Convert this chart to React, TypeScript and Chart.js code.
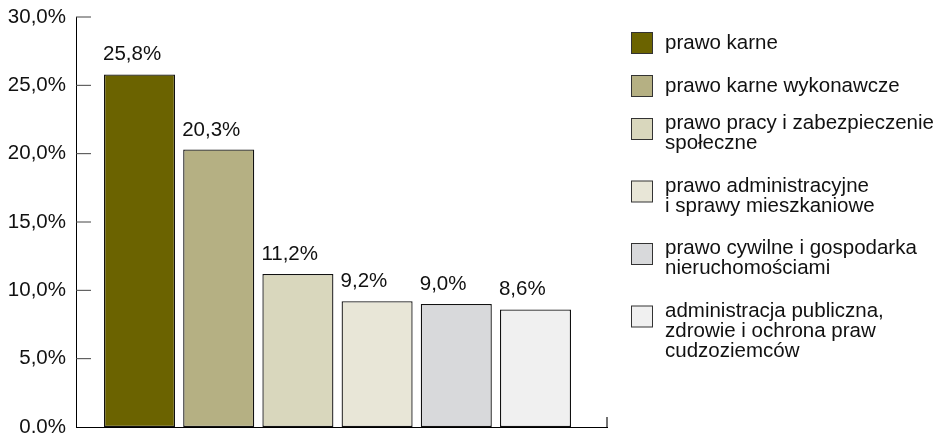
import React, { useEffect, useRef } from 'react';
import { Chart, registerables } from 'chart.js';

Chart.register(...registerables);

// ---- data ----
const categories: string[][] = [
  ['prawo karne'],
  ['prawo karne wykonawcze'],
  ['prawo pracy i zabezpieczenie', 'społeczne'],
  ['prawo administracyjne', 'i sprawy mieszkaniowe'],
  ['prawo cywilne i gospodarka', 'nieruchomościami'],
  ['administracja publiczna,', 'zdrowie i ochrona praw', 'cudzoziemców'],
];
const values: number[] = [25.8, 20.3, 11.2, 9.2, 9.0, 8.6];
const barColors: string[] = ['#6b6300', '#b5b083', '#d9d7bd', '#e8e6d7', '#d8d9db', '#f0f0f0'];
const yTicks: number[] = [0, 5, 10, 15, 20, 25, 30];
const yTickLabels: string[] = ['0,0%', '5,0%', '10,0%', '15,0%', '20,0%', '25,0%', '30,0%'];

const FONT = '"Liberation Sans", Arial, sans-serif';
const FS = 20.5;

const fmt = (v: number) => v.toFixed(1).replace('.', ',') + '%';

const decorPlugin = {
  id: 'decor',
  afterDraw(chart: any) {
    const { ctx, chartArea } = chart;
    const yScale = chart.scales.y;
    ctx.save();
    // inside y ticks
    ctx.strokeStyle = '#444';
    ctx.lineWidth = 1;
    yTicks.forEach((v) => {
      if (v === 0) return;
      const y = yScale.getPixelForValue(v);
      ctx.beginPath();
      ctx.moveTo(chartArea.left, y);
      ctx.lineTo(chartArea.left + 15, y);
      ctx.stroke();
    });
    // right end tick of x axis
    ctx.lineWidth = 1.5;
    ctx.beginPath();
    ctx.moveTo(chartArea.right, chartArea.bottom - 10);
    ctx.lineTo(chartArea.right, chartArea.bottom);
    ctx.stroke();

    // value labels
    const meta = chart.getDatasetMeta(0);
    ctx.fillStyle = '#111';
    ctx.font = `${FS}px ${FONT}`;
    ctx.textAlign = 'left';
    ctx.textBaseline = 'alphabetic';
    meta.data.forEach((bar: any, i: number) => {
      ctx.fillText(fmt(values[i]), bar.x - bar.width / 2 - 1, bar.y - 14);
    });

    // legend
    const boxX = chartArea.right + 24;
    const textX = chartArea.right + 58;
    let top = 32;
    categories.forEach((lines, i) => {
      ctx.fillStyle = barColors[i];
      ctx.fillRect(boxX + 0.5, top + 0.5, 21, 21);
      ctx.strokeStyle = '#333';
      ctx.lineWidth = 1;
      ctx.strokeRect(boxX + 0.5, top + 0.5, 21, 21);
      ctx.fillStyle = '#111';
      const first = lines.length === 1 ? top + 17 : top + 11;
      lines.forEach((line, j) => {
        ctx.fillText(line, textX, first + j * 20);
      });
      top += 43 + 19.5 * (lines.length - 1);
    });
    ctx.restore();
  },
};

export default function App() {
  const ref = useRef<HTMLCanvasElement | null>(null);

  useEffect(() => {
    if (!ref.current) return;
    const chart = new Chart(ref.current, {
      type: 'bar',
      data: {
        labels: categories.map((l) => l.join(' ')),
        datasets: [
          {
            data: values.map((v, i) => ({ x: i, y: v })) as any,
            backgroundColor: barColors,
            borderColor: '#111',
            borderWidth: 1.3,
            borderSkipped: false,
            barPercentage: 0.897,
            categoryPercentage: 1,
          },
        ],
      },
      options: {
        responsive: false,
        animation: false,
        devicePixelRatio: 1,
        layout: { padding: { left: 0, right: 330, top: 17, bottom: 6 } },
        plugins: {
          legend: { display: false },
          tooltip: { enabled: false },
        },
        scales: {
          x: {
            type: 'linear',
            bounds: 'data',
            offset: false,
            min: -0.802,
            max: 5.903,
            afterBuildTicks: (s: any) => {
              s.ticks = values.map((_, i) => ({ value: i }));
            },
            ticks: { display: false },
            grid: { display: false, drawTicks: false, offset: false },
            border: { display: true, color: '#000', width: 1 },
            afterFit: (s: any) => {
              s.height = 0;
              s.paddingLeft = 0;
              s.paddingRight = 0;
            },
          },
          y: {
            type: 'linear',
            min: 0,
            max: 30,
            ticks: {
              stepSize: 5,
              padding: 10,
              color: '#111',
              font: { family: FONT, size: FS },
              callback: (v: any) => {
                const k = yTicks.indexOf(Number(v));
                return k >= 0 ? yTickLabels[k] : '';
              },
            },
            grid: { display: false, drawTicks: false },
            border: { display: true, color: '#000', width: 1 },
            afterFit: (s: any) => {
              s.width = 76;
              s.paddingTop = 0;
              s.paddingBottom = 0;
            },
          },
        },
      } as any,
      plugins: [decorPlugin],
    });
    return () => chart.destroy();
  }, []);

  return (
    <div style={{ position: 'fixed', left: 0, top: 0, width: 937, height: 433, background: '#fff' }}>
      <canvas ref={ref} width={937} height={433} style={{ width: 937, height: 433, display: 'block' }} />
    </div>
  );
}
